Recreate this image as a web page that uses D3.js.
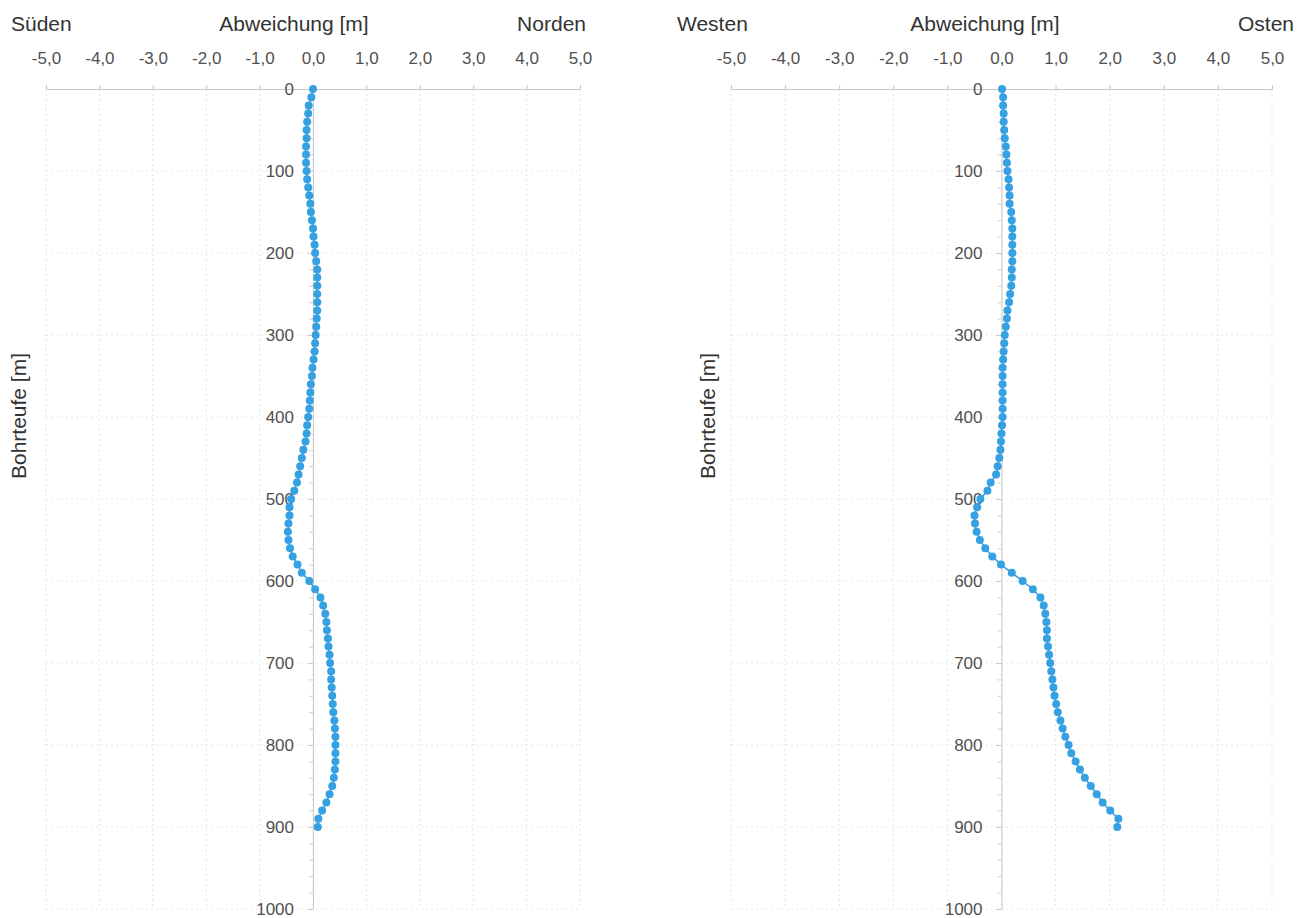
<!DOCTYPE html>
<html>
<head>
<meta charset="utf-8">
<script src="https://cdn.jsdelivr.net/npm/d3@7"></script>
<style>
  body { margin: 0; background: #fff; }
  text { font-family: "Liberation Sans", Arial, sans-serif; }
</style>
</head>
<body>
<div id="plot"></div>
<script>
// depth of each survey point [m]
const depth = [0, 10, 20, 30, 40, 50, 60, 70, 80, 90,
  100, 110, 120, 130, 140, 150, 160, 170, 180, 190,
  200, 210, 220, 230, 240, 250, 260, 270, 280, 290,
  300, 310, 320, 330, 340, 350, 360, 370, 380, 390,
  400, 410, 420, 430, 440, 450, 460, 470, 480, 490,
  500, 510, 520, 530, 540, 550, 560, 570, 580, 590,
  600, 610, 620, 630, 640, 650, 660, 670, 680, 690,
  700, 710, 720, 730, 740, 750, 760, 770, 780, 790,
  800, 810, 820, 830, 840, 850, 860, 870, 880, 890, 900];

// deviation north (+) / south (-) [m]
const northSouth = [0.00, -0.03, -0.08, -0.09, -0.11, -0.12, -0.12, -0.13, -0.13, -0.13,
  -0.12, -0.11, -0.09, -0.07, -0.05, -0.04, -0.02, 0.00, 0.01, 0.03,
  0.04, 0.06, 0.08, 0.08, 0.08, 0.08, 0.08, 0.08, 0.07, 0.06,
  0.05, 0.04, 0.03, 0.01, -0.01, -0.02, -0.04, -0.05, -0.06, -0.07,
  -0.09, -0.11, -0.12, -0.14, -0.18, -0.21, -0.24, -0.27, -0.30, -0.35,
  -0.41, -0.44, -0.44, -0.46, -0.47, -0.46, -0.43, -0.38, -0.29, -0.21,
  -0.07, 0.04, 0.14, 0.19, 0.23, 0.25, 0.26, 0.28, 0.29, 0.31,
  0.32, 0.34, 0.34, 0.35, 0.36, 0.37, 0.38, 0.40, 0.41, 0.42,
  0.42, 0.42, 0.42, 0.41, 0.39, 0.36, 0.31, 0.25, 0.17, 0.10, 0.09];

// deviation east (+) / west (-) [m]
const eastWest = [0.01, 0.03, 0.03, 0.04, 0.04, 0.05, 0.06, 0.08, 0.09, 0.10,
  0.11, 0.13, 0.14, 0.15, 0.15, 0.18, 0.19, 0.20, 0.20, 0.20,
  0.20, 0.20, 0.19, 0.19, 0.18, 0.16, 0.14, 0.11, 0.10, 0.08,
  0.06, 0.05, 0.04, 0.03, 0.02, 0.02, 0.02, 0.02, 0.02, 0.02,
  0.02, 0.01, 0.00, -0.01, -0.02, -0.04, -0.07, -0.10, -0.20, -0.26,
  -0.39, -0.45, -0.50, -0.49, -0.46, -0.40, -0.30, -0.17, -0.01, 0.19,
  0.39, 0.58, 0.72, 0.78, 0.81, 0.83, 0.84, 0.84, 0.86, 0.88,
  0.90, 0.92, 0.94, 0.96, 0.98, 1.01, 1.04, 1.09, 1.13, 1.18,
  1.24, 1.29, 1.37, 1.45, 1.54, 1.65, 1.76, 1.87, 2.01, 2.16, 2.14];

// axis ticks
const xTicks = [-5, -4, -3, -2, -1, 0, 1, 2, 3, 4, 5];
const yTicks = [0, 100, 200, 300, 400, 500, 600, 700, 800, 900, 1000];
const yMinorTicks = [20, 40, 60, 80, 120, 140, 160, 180, 220, 240, 260, 280,
  320, 340, 360, 380, 420, 440, 460, 480, 520, 540, 560, 580,
  620, 640, 660, 680, 720, 740, 760, 780, 820, 840, 860, 880, 920, 940, 960, 980];

const svgWidth = 1309;
const svgHeight = 918;
const pointColor = "#35a0e2";
// excel style: "-1,0" with plain hyphen and decimal comma
const fmt = d => d.toFixed(1).replace(".", ",");

let svg = d3.select("#plot")
  .append("svg")
  .attr("width", svgWidth)
  .attr("height", svgHeight);

function drawPanel(opt) {
  let data = depth.map((d, i) => ({depth: d, dev: opt.values[i]}));

  var xScale = d3.scaleLinear()
    .domain([-5, 5])
    .range(opt.xRange);
  var yScale = d3.scaleLinear()
    .domain([0, 1000])
    .range([89, 909]);

  let g = svg.append("g");

  // dotted grid
  g.append("g").selectAll("line.vgrid")
    .data(xTicks)
    .join("line")
    .attr("x1", d => xScale(d)).attr("x2", d => xScale(d))
    .attr("y1", yScale(0)).attr("y2", yScale(1000))
    .attr("stroke", "#e2e2e2")
    .attr("stroke-dasharray", "2,3");
  g.append("g").selectAll("line.hgrid")
    .data(yTicks.slice(1))
    .join("line")
    .attr("x1", xScale(-5)).attr("x2", xScale(5))
    .attr("y1", d => yScale(d)).attr("y2", d => yScale(d))
    .attr("stroke", "#e8e8e8")
    .attr("stroke-dasharray", "2,3");

  // x axis on top
  let xAxis = g.append("g")
    .attr("transform", "translate(0," + yScale(0) + ")")
    .call(d3.axisTop(xScale).tickValues(xTicks).tickFormat(fmt)
      .tickSizeInner(4).tickSizeOuter(0).tickPadding(21));
  xAxis.select(".domain").attr("stroke", "#c8c8c8");
  xAxis.selectAll(".tick line").attr("stroke", "#c8c8c8");
  xAxis.selectAll("text")
    .attr("font-size", 17)
    .attr("fill", "#505050")
    .style("font-family", "'Liberation Sans', Arial, sans-serif");

  // y axis through zero
  let yAxis = g.append("g")
    .attr("transform", "translate(" + xScale(0) + ",0)")
    .call(d3.axisLeft(yScale).tickValues(yTicks).tickFormat(d3.format("d"))
      .tickSizeInner(5).tickSizeOuter(0).tickPadding(14));
  yAxis.select(".domain").attr("stroke", "#c8c8c8");
  yAxis.selectAll(".tick line").attr("stroke", "#c8c8c8");
  yAxis.selectAll("text")
    .attr("font-size", 17)
    .attr("fill", "#505050")
    .style("font-family", "'Liberation Sans', Arial, sans-serif");
  g.append("g")
    .attr("transform", "translate(" + xScale(0) + ",0)")
    .call(d3.axisLeft(yScale).tickValues(yMinorTicks).tickFormat("").tickSizeInner(4).tickSizeOuter(0))
    .call(a => a.select(".domain").remove())
    .selectAll(".tick line").attr("stroke", "#d0d0d0");

  // the borehole path
  g.append("path")
    .datum(data)
    .attr("fill", "none")
    .attr("stroke", pointColor)
    .attr("stroke-width", 1.5)
    .attr("d", d3.line()
      .x(d => xScale(d.dev))
      .y(d => yScale(d.depth)));
  g.append("g").selectAll("circle")
    .data(data)
    .join("circle")
    .attr("cx", d => xScale(d.dev))
    .attr("cy", d => yScale(d.depth))
    .attr("r", 4)
    .attr("fill", pointColor);

  // titles
  g.append("text")
    .attr("x", opt.leftTitleX).attr("y", 31)
    .attr("font-size", 21).attr("fill", "#333")
    .text(opt.leftTitle);
  g.append("text")
    .attr("x", opt.midTitleX).attr("y", 31)
    .attr("text-anchor", "middle")
    .attr("font-size", 21).attr("fill", "#333")
    .text("Abweichung [m]");
  g.append("text")
    .attr("x", opt.rightTitleX).attr("y", 31)
    .attr("text-anchor", "end")
    .attr("font-size", 21).attr("fill", "#333")
    .text(opt.rightTitle);
  g.append("text")
    .attr("transform", "translate(" + opt.yLabelX + ",416) rotate(-90)")
    .attr("text-anchor", "middle")
    .attr("font-size", 21).attr("fill", "#333")
    .text("Bohrteufe [m]");
}

drawPanel({values: northSouth, xRange: [46, 580],
  leftTitle: "Süden", rightTitle: "Norden",
  leftTitleX: 11, midTitleX: 294, rightTitleX: 586, yLabelX: 26});
drawPanel({values: eastWest, xRange: [731, 1272],
  leftTitle: "Westen", rightTitle: "Osten",
  leftTitleX: 677, midTitleX: 985, rightTitleX: 1294, yLabelX: 715});
</script>
</body>
</html>
